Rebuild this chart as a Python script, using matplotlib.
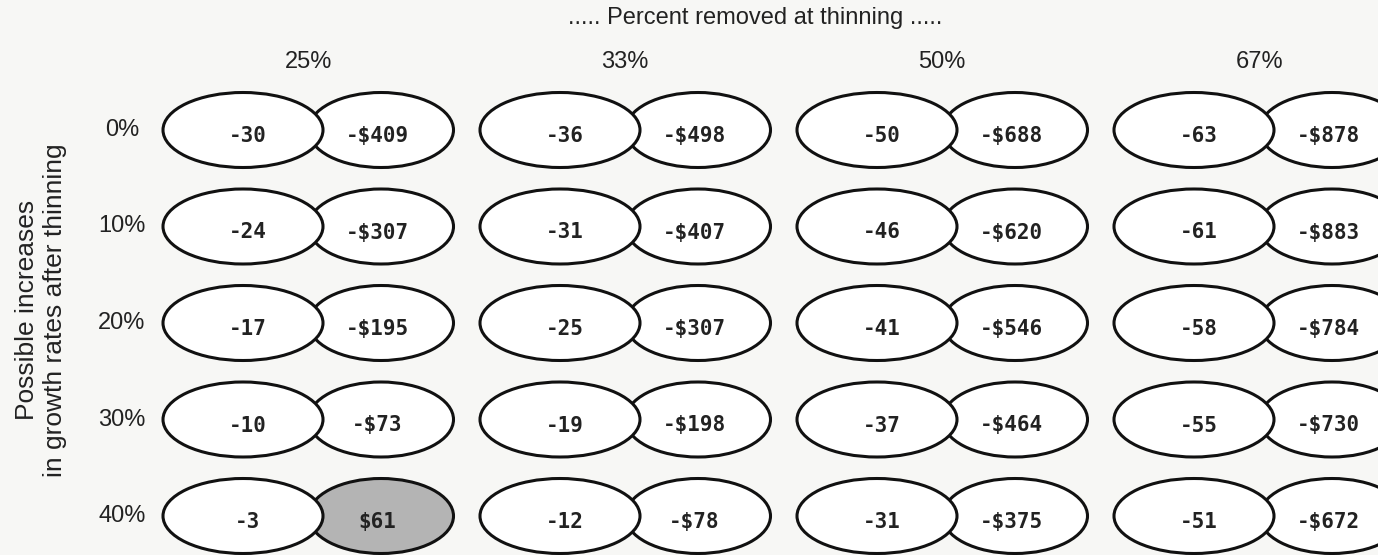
import matplotlib.pyplot as plt
from matplotlib.patches import Ellipse

# data
thin_labels = ['25%', '33%', '50%', '67%']
growth_labels = ['0%', '10%', '20%', '30%', '40%']

# left ellipse numbers, one row per growth level
volume_change = [
    [-30, -36, -50, -63],
    [-24, -31, -46, -61],
    [-17, -25, -41, -58],
    [-10, -19, -37, -55],
    [-3, -12, -31, -51],
]
# right ellipse dollar values
value_change = [
    [-409, -498, -688, -878],
    [-307, -407, -620, -883],
    [-195, -307, -546, -784],
    [-73, -198, -464, -730],
    [61, -78, -375, -672],
]

# layout in pixel units
W, H = 1378, 555
x0, dx = 163, 317       # left edge of first pair, column step
y0, dy = 130, 96.5      # first row centre, row step
lw_, lh_ = 160, 75      # left ellipse size
rw_, rh_ = 145, 75      # right ellipse size
r_off = 218             # right ellipse centre offset from pair left edge

fig = plt.figure(figsize=(W / 100, H / 100), dpi=100)
fig.patch.set_facecolor('#f7f7f5')
ax = fig.add_axes([0, 0, 1, 1])
ax.set_xlim(0, W)
ax.set_ylim(H, 0)
ax.axis('off')

sans = 'Liberation Sans'
mono = 'DejaVu Sans Mono'

for i, g in enumerate(growth_labels):
    yc = y0 + i * dy
    ax.text(122, yc, g, ha='center', va='center', fontsize=17, family=sans, color='#222222')
    for j in range(len(thin_labels)):
        left = x0 + j * dx
        lx = left + lw_ / 2
        rx = left + r_off
        v = value_change[i][j]
        fc = '#b4b4b4' if v > 0 else 'white'
        ax.add_patch(Ellipse((rx, yc), rw_, rh_, facecolor=fc, edgecolor='#111111', lw=2.2, zorder=2))
        ax.add_patch(Ellipse((lx, yc), lw_, lh_, facecolor='white', edgecolor='#111111', lw=2.2, zorder=3))
        ax.text(lx + 5, yc + 6, str(volume_change[i][j]), ha='center', va='center',
                fontsize=15, family=mono, weight='bold', color='#222222', zorder=4)
        s = ('-$%d' % -v) if v < 0 else ('$%d' % v)
        ax.text(rx - 4, yc + 6, s, ha='center', va='center',
                fontsize=15, family=mono, weight='bold', color='#222222', zorder=4)

for j, t in enumerate(thin_labels):
    cx = x0 + j * dx + (r_off + rw_ / 2) / 2
    ax.text(cx, 62, t, ha='center', va='center', fontsize=17, family=sans, color='#222222')

ax.text(755, 18, '..... Percent removed at thinning .....', ha='center', va='center',
        fontsize=17, family=sans, color='#222222')

ax.text(41, 310, 'Possible increases\nin growth rates after thinning', ha='center', va='center',
        rotation=90, fontsize=19, family=sans, color='#222222', linespacing=1.2)

fig.savefig('out.png', dpi=100, facecolor=fig.get_facecolor())
